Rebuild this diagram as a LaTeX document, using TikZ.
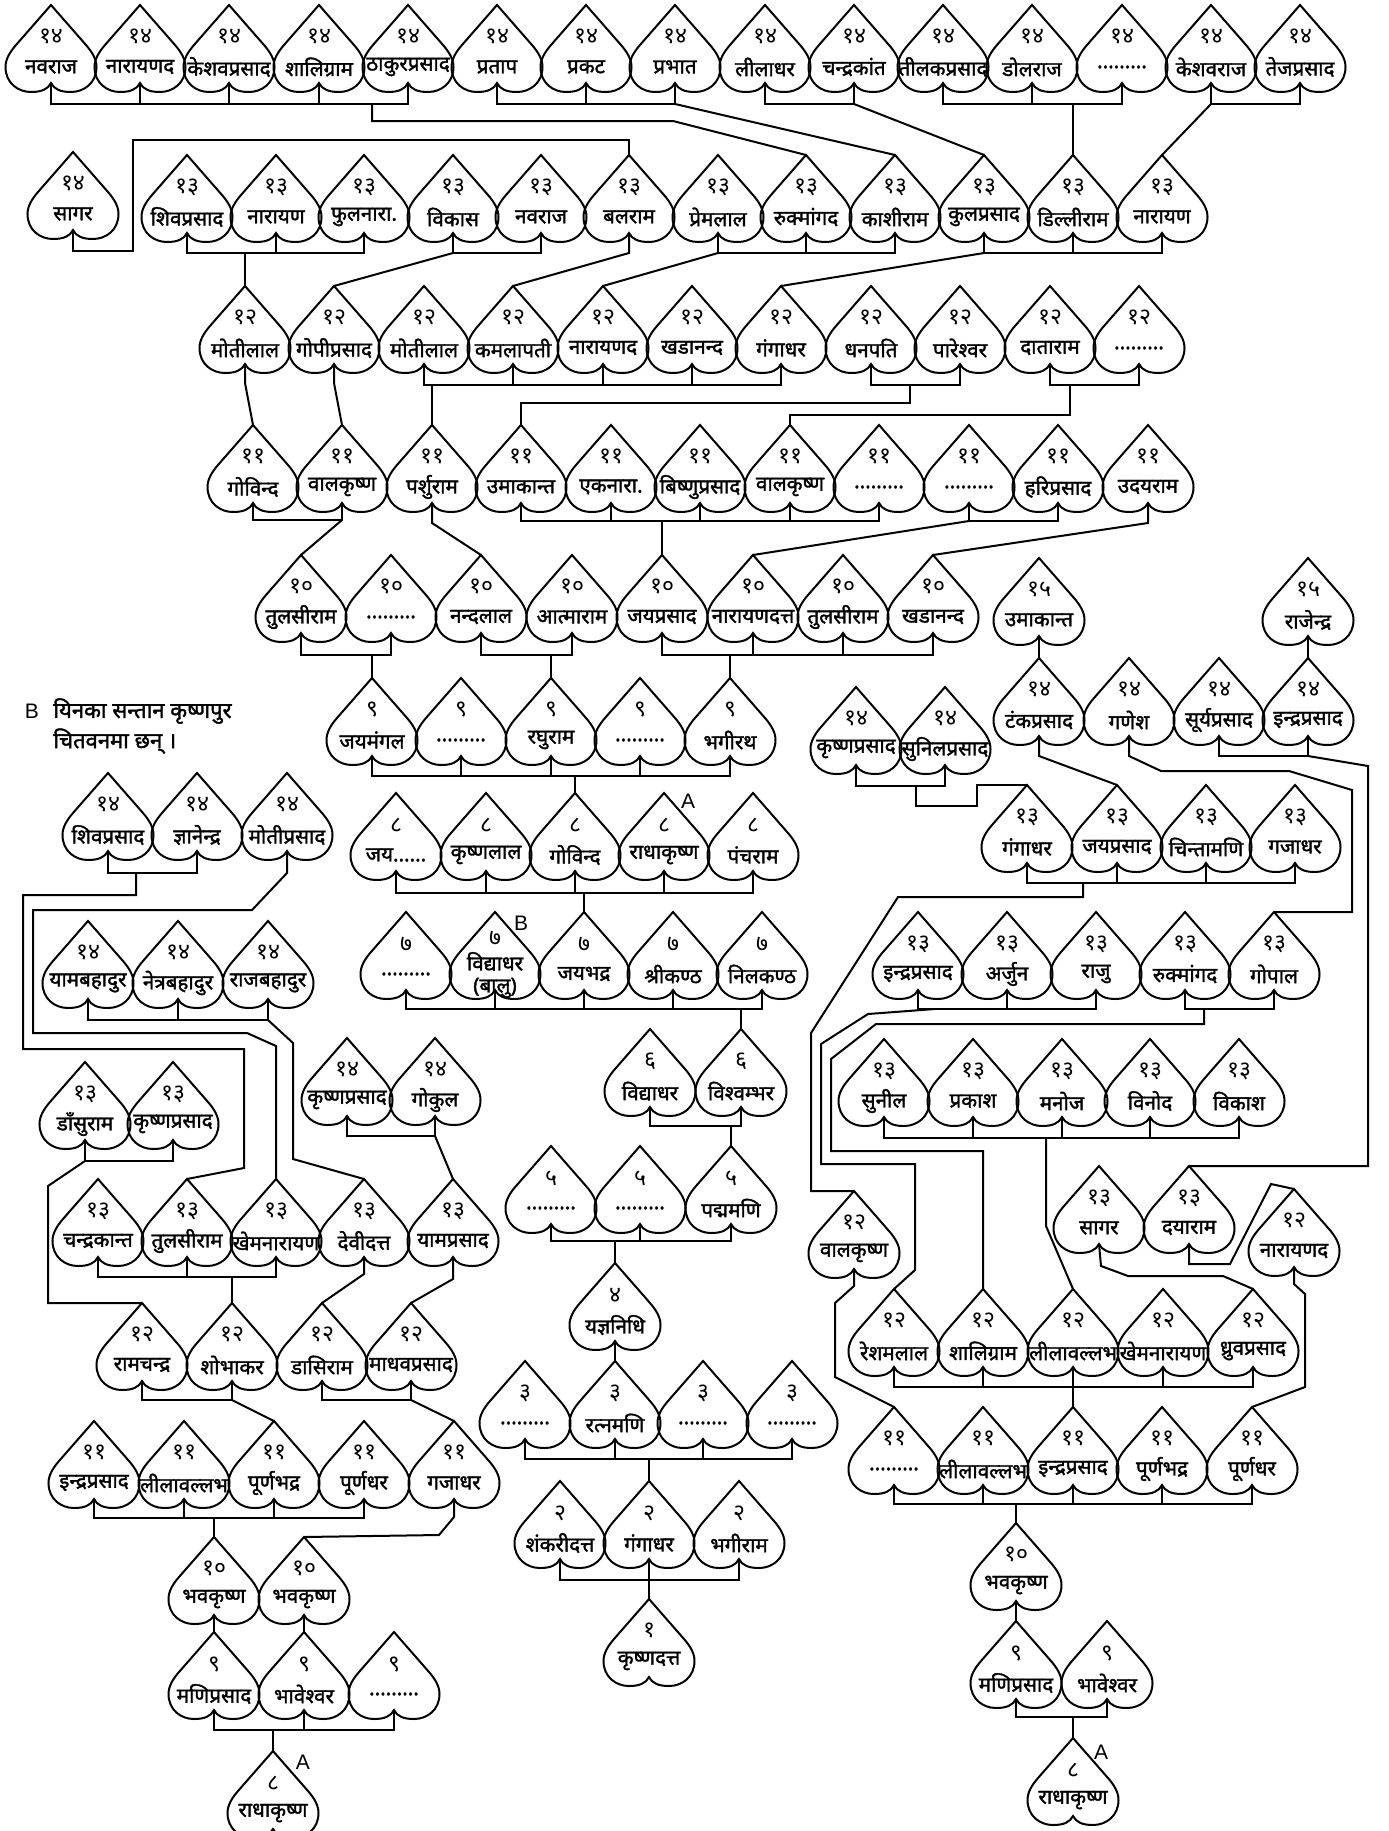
\documentclass[tikz,border=0pt]{standalone}
\usepackage{fontspec}
\setmainfont{Liberation Sans}
\newfontfamily\dev[Script=Devanagari]{Noto Sans}
\newfontfamily\devb[Script=Devanagari, FakeBold=1.6]{Noto Sans}
\tikzset{
  hline/.style={line width=1pt, line join=miter},
  conn/.style={line width=1pt},
  numtxt/.style={font=\dev\fontsize{11.5}{12}\selectfont, inner sep=0pt},
  nametxt/.style={font=\devb\fontsize{10.3}{11}\selectfont, inner sep=0pt, align=center},
  lbl/.style={font=\fontsize{10.5}{12}\selectfont, inner sep=0pt},
  pics/hrt/.style n args={2}{code={
    \draw[hline] (0,0) -- (-35,40) .. controls (-41,47) and (-45.5,54) .. (-45.5,62)
      .. controls (-45.5,78) and (-33,87) .. (-20,87) .. controls (-9,87) and (-3,84) .. (0,78)
      .. controls (3,84) and (9,87) .. (20,87) .. controls (33,87) and (45.5,78) .. (45.5,62)
      .. controls (45.5,54) and (41,47) .. (35,40) -- cycle;
    \coordinate (-t) at (0,0);
    \coordinate (-b) at (0,78);
    \node[numtxt] (-n) at (0,32) {#1};
    \node[nametxt] (-m) at (0,62) {#2};
  }}
}
\newcommand\famline[3]{\draw[conn] (#2-b) -- (#2-b |- 0,#1) -- (#3-b |- 0,#1) -- (#3-b);}
\newcommand\kidstem[2]{\foreach \q in {#2}{\draw[conn] (\q-b) -- (\q-b |- 0,#1);}}
\begin{document}
\begin{tikzpicture}[x=0.5pt,y=-0.5pt]
\useasboundingbox (0,0) rectangle (1388,1831);
% ---------- row A (14)
\pic (a1) at (51,5) {hrt={१४}{नवराज}};
\pic (a2) at (140,5) {hrt={१४}{नारायणद}};
\pic (a3) at (229,5) {hrt={१४}{केशवप्रसाद}};
\pic (a4) at (319,5) {hrt={१४}{शालिग्राम}};
\pic (a5) at (408,5) {hrt={१४}{ठाकुरप्रसाद}};
\pic (a6) at (497,5) {hrt={१४}{प्रताप}};
\pic (a7) at (586,5) {hrt={१४}{प्रकट}};
\pic (a8) at (675,5) {hrt={१४}{प्रभात}};
\pic (a9) at (765,5) {hrt={१४}{लीलाधर}};
\pic (a10) at (854,5) {hrt={१४}{चन्द्रकांत}};
\pic (a11) at (943,5) {hrt={१४}{तीलकप्रसाद}};
\pic (a12) at (1032,5) {hrt={१४}{डोलराज}};
\pic (a13) at (1122,5) {hrt={१४}{.........}};
\pic (a14) at (1211,5) {hrt={१४}{केशवराज}};
\pic (a15) at (1300,5) {hrt={१४}{तेजप्रसाद}};
% ---------- row B (13)
\pic (b0) at (73,152) {hrt={१४}{सागर}};
\pic (b1) at (187,155) {hrt={१३}{शिवप्रसाद}};
\pic (b2) at (276,155) {hrt={१३}{नारायण}};
\pic (b3) at (364,155) {hrt={१३}{फुलनारा.}};
\pic (b4) at (453,155) {hrt={१३}{विकास}};
\pic (b5) at (541,155) {hrt={१३}{नवराज}};
\pic (b6) at (629,155) {hrt={१३}{बलराम}};
\pic (b7) at (718,155) {hrt={१३}{प्रेमलाल}};
\pic (b8) at (806,155) {hrt={१३}{रुक्मांगद}};
\pic (b9) at (895,155) {hrt={१३}{काशीराम}};
\pic (b10) at (984,155) {hrt={१३}{कुलप्रसाद}};
\pic (b11) at (1073,155) {hrt={१३}{डिल्लीराम}};
\pic (b12) at (1162,155) {hrt={१३}{नारायण}};
% ---------- row C (12)
\pic (c1) at (245,286) {hrt={१२}{मोतीलाल}};
\pic (c2) at (334,286) {hrt={१२}{गोपीप्रसाद}};
\pic (c3) at (424,286) {hrt={१२}{मोतीलाल}};
\pic (c4) at (513,286) {hrt={१२}{कमलापती}};
\pic (c5) at (603,286) {hrt={१२}{नारायणद}};
\pic (c6) at (692,286) {hrt={१२}{खडानन्द}};
\pic (c7) at (781,286) {hrt={१२}{गंगाधर}};
\pic (c8) at (871,286) {hrt={१२}{धनपति}};
\pic (c9) at (960,286) {hrt={१२}{पारेश्वर}};
\pic (c10) at (1050,286) {hrt={१२}{दाताराम}};
\pic (c11) at (1139,286) {hrt={१२}{.........}};
% ---------- row D (11)
\pic (d1) at (253,425) {hrt={११}{गोविन्द}};
\pic (d2) at (342,425) {hrt={११}{वालकृष्ण}};
\pic (d3) at (432,425) {hrt={११}{पर्शुराम}};
\pic (d4) at (521,425) {hrt={११}{उमाकान्त}};
\pic (d5) at (611,425) {hrt={११}{एकनारा.}};
\pic (d6) at (700,425) {hrt={११}{बिष्णुप्रसाद}};
\pic (d7) at (790,425) {hrt={११}{वालकृष्ण}};
\pic (d8) at (879,425) {hrt={११}{.........}};
\pic (d9) at (969,425) {hrt={११}{.........}};
\pic (d10) at (1058,425) {hrt={११}{हरिप्रसाद}};
\pic (d11) at (1148,425) {hrt={११}{उदयराम}};
% ---------- row E (10)
\pic (e1) at (301,555) {hrt={१०}{तुलसीराम}};
\pic (e2) at (391,555) {hrt={१०}{.........}};
\pic (e3) at (481,555) {hrt={१०}{नन्दलाल}};
\pic (e4) at (572,555) {hrt={१०}{आत्माराम}};
\pic (e5) at (662,555) {hrt={१०}{जयप्रसाद}};
\pic (e6) at (753,555) {hrt={१०}{नारायणदत्त}};
\pic (e7) at (843,555) {hrt={१०}{तुलसीराम}};
\pic (e8) at (933,555) {hrt={१०}{खडानन्द}};
% ---------- row F (9)
\pic (f1) at (372,678) {hrt={९}{जयमंगल}};
\pic (f2) at (461,678) {hrt={९}{.........}};
\pic (f3) at (551,678) {hrt={९}{रघुराम}};
\pic (f4) at (640,678) {hrt={९}{.........}};
\pic (f5) at (730,678) {hrt={९}{भगीरथ}};
% ---------- row G (8)
\pic (g1) at (396,793) {hrt={८}{जय......}};
\pic (g2) at (486,793) {hrt={८}{कृष्णलाल}};
\pic (g3) at (575,793) {hrt={८}{गोविन्द}};
\pic (g4) at (664,793) {hrt={८}{राधाकृष्ण}};
\pic (g5) at (753,793) {hrt={८}{पंचराम}};
% ---------- row H (7)
\pic (h1) at (406,912) {hrt={७}{.........}};
\pic (h2) at (495,912) {hrt={}{}};
\node[numtxt] (h2num) at (495,938) {७};
\node[nametxt] (h2name) at (495,975) {विद्याधर\\(बालु)};
\pic (h3) at (584,912) {hrt={७}{जयभद्र}};
\pic (h4) at (673,912) {hrt={७}{श्रीकण्ठ}};
\pic (h5) at (762,912) {hrt={७}{निलकण्ठ}};
% ---------- rows I..N
\pic (i1) at (650,1029) {hrt={६}{विद्याधर}};
\pic (i2) at (741,1029) {hrt={६}{विश्वम्भर}};
\pic (j1) at (551,1146) {hrt={५}{.........}};
\pic (j2) at (640,1146) {hrt={५}{.........}};
\pic (j3) at (731,1146) {hrt={५}{पद्ममणि}};
\pic (k1) at (615,1263) {hrt={४}{यज्ञनिधि}};
\pic (l1) at (525,1361) {hrt={३}{.........}};
\pic (l2) at (615,1361) {hrt={३}{रत्नमणि}};
\pic (l3) at (703,1361) {hrt={३}{.........}};
\pic (l4) at (792,1361) {hrt={३}{.........}};
\pic (m1) at (560,1481) {hrt={२}{शंकरीदत्त}};
\pic (m2) at (649,1481) {hrt={२}{गंगाधर}};
\pic (m3) at (739,1481) {hrt={२}{भगीराम}};
\pic (n1) at (649,1599) {hrt={१}{कृष्णदत्त}};
% ---------- left subtree
\pic (la1) at (108,773) {hrt={१४}{शिवप्रसाद}};
\pic (la2) at (197,773) {hrt={१४}{ज्ञानेन्द्र}};
\pic (la3) at (287,773) {hrt={१४}{मोतीप्रसाद}};
\pic (lb1) at (88,921) {hrt={१४}{यामबहादुर}};
\pic (lb2) at (178,921) {hrt={१४}{नेत्रबहादुर}};
\pic (lb3) at (268,921) {hrt={१४}{राजबहादुर}};
\pic (lc1) at (347,1038) {hrt={१४}{कृष्णप्रसाद}};
\pic (lc2) at (435,1038) {hrt={१४}{गोकुल}};
\pic (ld1) at (85,1062) {hrt={१३}{डाँसुराम}};
\pic (ld2) at (173,1062) {hrt={१३}{कृष्णप्रसाद}};
\pic (le1) at (98,1179) {hrt={१३}{चन्द्रकान्त}};
\pic (le2) at (187,1179) {hrt={१३}{तुलसीराम}};
\pic (le3) at (276,1179) {hrt={१३}{खेमनारायण}};
\pic (le4) at (364,1179) {hrt={१३}{देवीदत्त}};
\pic (le5) at (453,1179) {hrt={१३}{यामप्रसाद}};
\pic (lf1) at (142,1303) {hrt={१२}{रामचन्द्र}};
\pic (lf2) at (232,1303) {hrt={१२}{शोभाकर}};
\pic (lf3) at (322,1303) {hrt={१२}{डासिराम}};
\pic (lf4) at (411,1303) {hrt={१२}{माधवप्रसाद}};
\pic (lg1) at (94,1421) {hrt={११}{इन्द्रप्रसाद}};
\pic (lg2) at (184,1421) {hrt={११}{लीलावल्लभ}};
\pic (lg3) at (274,1421) {hrt={११}{पूर्णभद्र}};
\pic (lg4) at (364,1421) {hrt={११}{पूर्णधर}};
\pic (lg5) at (454,1421) {hrt={११}{गजाधर}};
\pic (lh1) at (214,1537) {hrt={१०}{भवकृष्ण}};
\pic (lh2) at (304,1537) {hrt={१०}{भवकृष्ण}};
\pic (li1) at (214,1632) {hrt={९}{मणिप्रसाद}};
\pic (li2) at (304,1632) {hrt={९}{भावेश्वर}};
\pic (li3) at (394,1632) {hrt={९}{.........}};
\pic (lj1) at (273,1751) {hrt={८}{राधाकृष्ण}};
% ---------- right subtree
\pic (ra1) at (1039,558) {hrt={१५}{उमाकान्त}};
\pic (ra2) at (1308,558) {hrt={१५}{राजेन्द्र}};
\pic (rb1) at (1039,658) {hrt={१४}{टंकप्रसाद}};
\pic (rb2) at (1129,658) {hrt={१४}{गणेश}};
\pic (rb3) at (1219,658) {hrt={१४}{सूर्यप्रसाद}};
\pic (rb4) at (1308,658) {hrt={१४}{इन्द्रप्रसाद}};
\pic (rc1) at (856,687) {hrt={१४}{कृष्णप्रसाद}};
\pic (rc2) at (945,687) {hrt={१४}{सुनिलप्रसाद}};
\pic (rd1) at (1027,785) {hrt={१३}{गंगाधर}};
\pic (rd2) at (1117,785) {hrt={१३}{जयप्रसाद}};
\pic (rd3) at (1206,785) {hrt={१३}{चिन्तामणि}};
\pic (rd4) at (1295,785) {hrt={१३}{गजाधर}};
\pic (re1) at (918,912) {hrt={१३}{इन्द्रप्रसाद}};
\pic (re2) at (1007,912) {hrt={१३}{अर्जुन}};
\pic (re3) at (1096,912) {hrt={१३}{राजु}};
\pic (re4) at (1185,912) {hrt={१३}{रुक्मांगद}};
\pic (re5) at (1274,912) {hrt={१३}{गोपाल}};
\pic (rf1) at (884,1039) {hrt={१३}{सुनील}};
\pic (rf2) at (973,1039) {hrt={१३}{प्रकाश}};
\pic (rf3) at (1062,1039) {hrt={१३}{मनोज}};
\pic (rf4) at (1150,1039) {hrt={१३}{विनोद}};
\pic (rf5) at (1239,1039) {hrt={१३}{विकाश}};
\pic (rg1) at (854,1191) {hrt={१२}{वालकृष्ण}};
\pic (rg2) at (1099,1166) {hrt={१३}{सागर}};
\pic (rg3) at (1189,1166) {hrt={१३}{दयाराम}};
\pic (rg4) at (1294,1189) {hrt={१२}{नारायणद}};
\pic (rh1) at (894,1289) {hrt={१२}{रेशमलाल}};
\pic (rh2) at (983,1289) {hrt={१२}{शालिग्राम}};
\pic (rh3) at (1073,1289) {hrt={१२}{लीलावल्लभ}};
\pic (rh4) at (1163,1289) {hrt={१२}{खेमनारायण}};
\pic (rh5) at (1253,1289) {hrt={१२}{ध्रुवप्रसाद}};
\pic (ri1) at (894,1407) {hrt={११}{.........}};
\pic (ri2) at (983,1407) {hrt={११}{लीलावल्लभ}};
\pic (ri3) at (1073,1407) {hrt={११}{इन्द्रप्रसाद}};
\pic (ri4) at (1162,1407) {hrt={११}{पूर्णभद्र}};
\pic (ri5) at (1252,1407) {hrt={११}{पूर्णधर}};
\pic (rj1) at (1016,1523) {hrt={१०}{भवकृष्ण}};
\pic (rk1) at (1016,1621) {hrt={९}{मणिप्रसाद}};
\pic (rk2) at (1107,1621) {hrt={९}{भावेश्वर}};
\pic (rl1) at (1073,1738) {hrt={८}{राधाकृष्ण}};
% ---------- labels
\node[lbl] (lA1) at (688,801) {A};
\node[lbl] (lB1) at (521,923) {B};
\node[lbl] (lA2) at (303,1762) {A};
\node[lbl] (lA3) at (1101,1752) {A};
\node[lbl] (noteB) at (32,711) {B};
\node[nametxt, anchor=west, font=\devb\fontsize{11}{12}\selectfont] (note1) at (53,711) {यिनका सन्तान कृष्णपुर};
\node[nametxt, anchor=west, font=\devb\fontsize{11}{12}\selectfont] (note2) at (53,741) {चितवनमा छन् ।};
% ---------- connectors: main tree
\famline{104}{a1}{a5}\kidstem{104}{a2,a3,a4}
\draw[conn] (372,104) -- (372,121) -- (673,121) -- (b8-t);
\famline{104}{a6}{a8}\kidstem{104}{a7}
\draw[conn] (a8-b |- 0,104) -- (b9-t);
\famline{104}{a9}{a10}
\draw[conn] (a10-b |- 0,104) -- (b10-t);
\famline{104}{a11}{a13}\kidstem{104}{a12}
\draw[conn] (b11-t |- 0,104) -- (b11-t);
\famline{104}{a14}{a15}
\draw[conn] (a14-b |- 0,104) -- (b12-t);
\draw[conn] (b0-b) -- (b0-b |- 0,251) -- (133,251) -- (133,140) -- (b6-t |- 0,140) -- (b6-t);
\famline{253}{b1}{b3}\kidstem{253}{b2}
\draw[conn] (c1-t |- 0,253) -- (c1-t);
\famline{253}{b4}{b5}
\draw[conn] (b4-b |- 0,253) -- (c2-t);
\draw[conn] (b6-b) -- (b6-b |- 0,253) -- (c4-t);
\famline{253}{b7}{b9}\kidstem{253}{b8}
\draw[conn] (b7-b |- 0,253) -- (c5-t);
\famline{253}{b10}{b12}\kidstem{253}{b11}
\draw[conn] (b10-b |- 0,253) -- (c7-t);
\draw[conn] (c1-b) -- (c1-b |- 0,383) -- (d1-t);
\draw[conn] (c2-b) -- (c2-b |- 0,383) -- (d2-t);
\famline{385}{c3}{c7}\kidstem{385}{c4,c5,c6}
\draw[conn] (d3-t |- 0,385) -- (d3-t);
\famline{385}{c8}{c9}
\draw[conn] (910,385) -- (910,403) -- (d4-t |- 0,403) -- (d4-t);
\famline{385}{c10}{c11}
\draw[conn] (1070,385) -- (1070,415) -- (d7-t |- 0,415) -- (d7-t);
\famline{520}{d1}{d2}
\draw[conn] (d2-b |- 0,520) -- (e1-t);
\draw[conn] (d3-b) -- (d3-b |- 0,523) -- (e3-t);
\famline{521}{d4}{d8}\kidstem{521}{d5,d6,d7}
\draw[conn] (e5-t |- 0,521) -- (e5-t);
\famline{521}{d9}{d10}
\draw[conn] (d9-b |- 0,521) -- (e6-t);
\draw[conn] (d11-b) -- (d11-b |- 0,523) -- (e8-t);
\famline{655}{e1}{e2}
\draw[conn] (f1-t |- 0,655) -- (f1-t);
\famline{655}{e3}{e4}
\draw[conn] (f3-t |- 0,655) -- (f3-t);
\famline{655}{e5}{e8}\kidstem{655}{e6,e7}
\draw[conn] (f5-t |- 0,655) -- (f5-t);
\famline{776}{f1}{f5}\kidstem{776}{f2,f3,f4}
\draw[conn] (g3-t |- 0,776) -- (g3-t);
\famline{893}{g1}{g5}\kidstem{893}{g2,g3,g4}
\draw[conn] (h3-t |- 0,893) -- (h3-t);
\famline{1009}{h1}{h5}\kidstem{1009}{h2,h3,h4}
\draw[conn] (i2-t |- 0,1009) -- (i2-t);
\famline{1126}{i1}{i2}
\draw[conn] (j3-t |- 0,1126) -- (j3-t);
\famline{1241}{j1}{j3}\kidstem{1241}{j2}
\draw[conn] (k1-t |- 0,1241) -- (k1-t);
\draw[conn] (k1-b) -- (l2-t);
\famline{1459}{l1}{l4}\kidstem{1459}{l2,l3}
\draw[conn] (m2-t |- 0,1459) -- (m2-t);
\famline{1580}{m1}{m3}
\draw[conn] (m2-b) -- (n1-t);
% ---------- connectors: left subtree
\famline{873}{la1}{la2}
\draw[conn] (136,873) -- (136,895) -- (23,895) -- (23,1049) -- (244,1049) -- (244,1168) -- (le2-t);
\draw[conn] (la3-b) -- (la3-b |- 0,873) -- (252,910) -- (33,910) -- (33,1033) -- (247,1033) -- (276,1046) -- (le3-t);
\famline{1020}{lb1}{lb3}\kidstem{1020}{lb2}
\draw[conn] (lb3-b |- 0,1020) -- (293,1043) -- (293,1159) -- (le4-t);
\famline{1136}{lc1}{lc2}
\draw[conn] (lc2-b |- 0,1136) -- (le5-t);
\famline{1161}{ld1}{ld2}
\draw[conn] (ld1-b |- 0,1161) -- (48,1186) -- (48,1303) -- (lf1-t);
\famline{1277}{le1}{le3}\kidstem{1277}{le2}
\draw[conn] (lf2-t |- 0,1277) -- (lf2-t);
\draw[conn] (le4-b) -- (le4-b |- 0,1274) -- (lf3-t);
\draw[conn] (le5-b) -- (le5-b |- 0,1279) -- (lf4-t);
\famline{1400}{lf1}{lf2}
\draw[conn] (lf2-b |- 0,1400) -- (lg3-t);
\famline{1400}{lf3}{lf4}
\draw[conn] (lf4-b |- 0,1400) -- (lg5-t);
\famline{1518}{lg1}{lg4}\kidstem{1518}{lg2,lg3}
\draw[conn] (lh1-t |- 0,1518) -- (lh1-t);
\draw[conn] (lg5-b) -- (lg5-b |- 0,1517) -- (439,1535) -- (lh2-t);
\draw[conn] (lh1-b) -- (li1-t);
\draw[conn] (lh2-b) -- (li2-t);
\famline{1730}{li1}{li3}\kidstem{1730}{li2}
\draw[conn] (lj1-t |- 0,1730) -- (lj1-t);
% ---------- connectors: right subtree
\draw[conn] (ra1-b) -- (rb1-t);
\draw[conn] (ra2-b) -- (rb4-t);
\draw[conn] (rb1-b) -- (rb1-b |- 0,756) -- (rd2-t);
\draw[conn] (rb2-b) -- (rb2-b |- 0,756) -- (1161,771) -- (1289,771) -- (1352,790) -- (1352,912) -- (re5-t);
\famline{756}{rb3}{rb4}
\draw[conn] (rb4-b |- 0,756) -- (1368,766) -- (1368,1166) -- (rg3-t);
\famline{786}{rc1}{rc2}
\draw[conn] (916,786) -- (916,806) -- (977,806) -- (977,785) -- (rd1-t);
\famline{883}{rd1}{rd4}\kidstem{883}{rd2,rd3}
\draw[conn] (1083,883) -- (1083,897) -- (898,897) -- (811,1033) -- (811,1191) -- (rg1-t);
\famline{1009}{re1}{re3}\kidstem{1009}{re2}
\draw[conn] (935,1009) -- (868,1014) -- (821,1044) -- (821,1164) -- (915,1164) -- (915,1270) -- (rh1-t);
\famline{1009}{re4}{re5}
\draw[conn] (1204,1009) -- (1204,1024) -- (876,1024) -- (831,1059) -- (831,1151) -- (983,1151) -- (rh2-t);
\famline{1138}{rf1}{rf5}\kidstem{1138}{rf2,rf3,rf4}
\draw[conn] (1046,1138) -- (1046,1226) -- (rh3-t);
\draw[conn] (rg1-b) -- (rg1-b |- 0,1286) -- (835,1303) -- (835,1377) -- (ri1-t);
\draw[conn] (rg2-b) -- (1101,1266) -- (1128,1276) -- (1223,1276) -- (rh5-t);
\draw[conn] (rg3-b) -- (rg3-b |- 0,1264) -- (1230,1264) -- (1271,1184) -- (rg4-t);
\draw[conn] (rg4-b) -- (rg4-b |- 0,1284) -- (1305,1294) -- (1305,1387) -- (ri5-t);
\famline{1387}{rh1}{rh5}\kidstem{1387}{rh2,rh3,rh4}
\draw[conn] (ri3-t |- 0,1387) -- (ri3-t);
\famline{1504}{ri1}{ri5}\kidstem{1504}{ri2,ri3,ri4}
\draw[conn] (rj1-t |- 0,1504) -- (rj1-t);
\draw[conn] (rj1-b) -- (rk1-t);
\famline{1717}{rk1}{rk2}
\draw[conn] (rl1-t |- 0,1717) -- (rl1-t);
\end{tikzpicture}
\end{document}
